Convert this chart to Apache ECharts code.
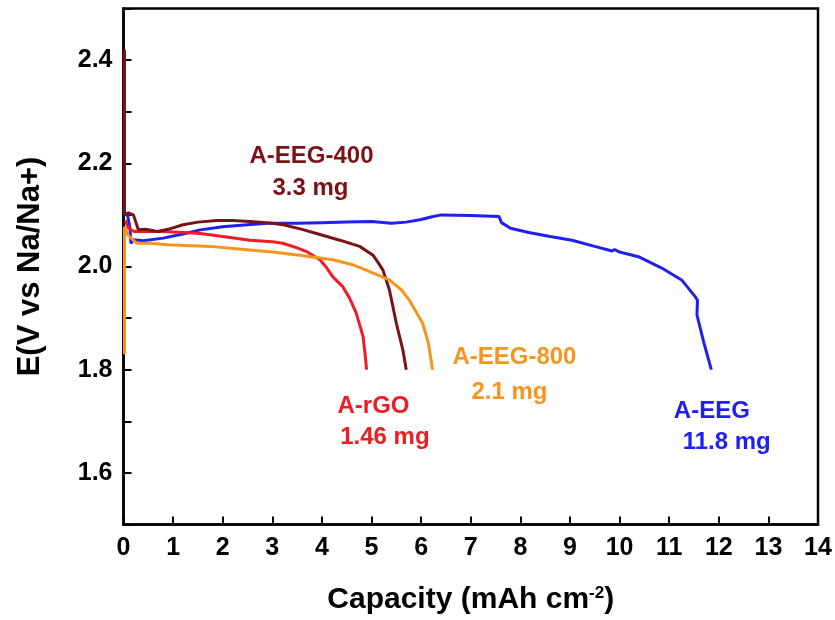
<!DOCTYPE html>
<html>
<head>
<meta charset="utf-8">
<script src="https://cdn.jsdelivr.net/npm/echarts@6/dist/echarts.min.js"></script>
<style>html,body{margin:0;padding:0;background:#fff}#c{width:835px;height:620px}</style>
</head>
<body>
<div id="c"></div>
<script>
const xTicks = [0,1,2,3,4,5,6,7,8,9,10,11,12,13,14];
const yTickLabels = ['1.6','1.8','2.0','2.2','2.4'];

const seriesNames = ['A-EEG','A-rGO','A-EEG-400','A-EEG-800'];
const seriesColors = ['#1f1ff0','#ee1c24','#7a1216','#f7941d'];

const eeg = [[0.03,2.104],[0.08,2.10],[0.13,2.075],[0.15,2.045],[0.2,2.052],[0.4,2.050],[0.8,2.055],[1.2,2.063],[1.55,2.071],[2.0,2.077],[2.5,2.081],[2.9,2.084],[3.5,2.084],[4.0,2.085],[4.5,2.086],[5.0,2.087],[5.4,2.084],[5.7,2.086],[6.0,2.091],[6.2,2.096],[6.4,2.1],[7.0,2.099],[7.57,2.097],[7.62,2.085],[7.8,2.074],[8.17,2.066],[8.6,2.058],[9.04,2.051],[9.5,2.039],[9.85,2.030],[9.9,2.033],[10.0,2.028],[10.38,2.019],[10.85,1.997],[11.25,1.974],[11.52,1.942],[11.57,1.935],[11.56,1.906],[11.7,1.852],[11.85,1.800]];
const rgo = [[0.03,2.09],[0.1,2.075],[0.21,2.068],[0.5,2.068],[0.8,2.068],[1.2,2.066],[1.55,2.064],[2.0,2.058],[2.55,2.051],[3.0,2.048],[3.21,2.045],[3.5,2.036],[3.69,2.029],[3.96,2.013],[4.1,1.997],[4.22,1.980],[4.42,1.961],[4.55,1.94],[4.69,1.910],[4.83,1.864],[4.87,1.83],[4.90,1.800]];
const eeg400 = [[0.02,2.42],[0.02,2.10],[0.1,2.104],[0.2,2.1],[0.3,2.071],[0.45,2.072],[0.68,2.068],[0.9,2.072],[1.2,2.081],[1.5,2.086],[1.88,2.089],[2.2,2.089],[2.55,2.087],[3.0,2.084],[3.22,2.081],[3.6,2.072],[3.89,2.064],[4.36,2.051],[4.76,2.039],[5.03,2.022],[5.15,2.005],[5.23,1.993],[5.36,1.955],[5.50,1.890],[5.63,1.839],[5.70,1.800]];
const eeg800 = [[0.02,1.83],[0.02,2.077],[0.1,2.06],[0.27,2.045],[0.54,2.045],[0.88,2.042],[1.75,2.039],[2.21,2.035],[3.0,2.028],[3.55,2.022],[4.22,2.013],[4.6,2.004],[4.89,1.993],[5.36,1.974],[5.6,1.955],[5.76,1.935],[6.03,1.890],[6.15,1.85],[6.23,1.800]];

// annotation texts anchored in data coordinates [x, y, text, colorIndex]
const notes = [
  [3.79,2.2125,'A-EEG-400',2],[3.77,2.152,'3.3 mg',2],
  [7.88,1.823,'A-EEG-800',3],[7.78,1.757,'2.1 mg',3],
  [5.04,1.728,'A-rGO',1],[5.27,1.668,'1.46 mg',1],
  [11.86,1.719,'A-EEG',0],[12.16,1.659,'11.8 mg',0]
];

const F = 'Liberation Sans, Arial, sans-serif';
const chart = echarts.init(document.getElementById('c'));
const dataSets = [eeg, rgo, eeg400, eeg800];
const lineSeries = dataSets.map((d,i)=>({
  name: seriesNames[i], type:'line', data:d, showSymbol:false, symbol:'none',
  lineStyle:{color:seriesColors[i], width:3}, z: 3, animation:false
}));
const noteSeries = {
  type:'scatter', symbolSize:0, animation:false, silent:true,
  itemStyle:{opacity:1},
  data: notes.map(n=>({value:[n[0],n[1]], itemStyle:{opacity:1}, label:{show:true, position:'inside', opacity:1, formatter:n[2], color:seriesColors[n[3]], fontFamily:F, fontWeight:'bold', fontSize:24}}))
};
chart.setOption({
  animation:false,
  grid:{left:123.5, right:17, top:8.5, bottom:95, show:true, borderColor:'#000', borderWidth:2.5, backgroundColor:'transparent'},
  xAxis:{type:'value', min:0, max:14, interval:1,
    axisLine:{show:true, onZero:false, lineStyle:{color:'#000', width:2.5}},
    axisTick:{show:true, inside:true, length:8, lineStyle:{color:'#000', width:2}},
    splitLine:{show:false},
    axisLabel:{color:'#000', fontFamily:F, fontWeight:'bold', fontSize:25, margin:11, formatter:v=>String(xTicks[Math.round(v)])},
    name:'{a|Capacity (mAh cm}{s|-2}{a|)}', nameLocation:'middle', nameGap:60,
    nameTextStyle:{rich:{a:{fontFamily:F, fontWeight:'bold', fontSize:30, color:'#000'}, s:{fontFamily:F, fontWeight:'bold', fontSize:17, color:'#000', verticalAlign:'top', padding:[0,0,14,0]}}}
  },
  yAxis:{type:'value', min:1.5, max:2.5, interval:0.1,
    axisLine:{show:true, onZero:false, lineStyle:{color:'#000', width:2.5}},
    axisTick:{show:true, inside:true, length:8, lineStyle:{color:'#000', width:2}},
    splitLine:{show:false},
    axisLabel:{color:'#000', fontFamily:F, fontWeight:'bold', fontSize:25, margin:11,
      formatter:v=>{const k=Math.round(v*10); const s=(k/10).toFixed(1); return yTickLabels.indexOf(s)>=0?s:'';}},
    name:'E(V vs Na/Na+)', nameLocation:'middle', nameGap:78, nameRotate:90,
    nameTextStyle:{fontFamily:F, fontWeight:'bold', fontSize:31, color:'#000'}
  },
  series: lineSeries.concat([noteSeries])
});
</script>
</body>
</html>
